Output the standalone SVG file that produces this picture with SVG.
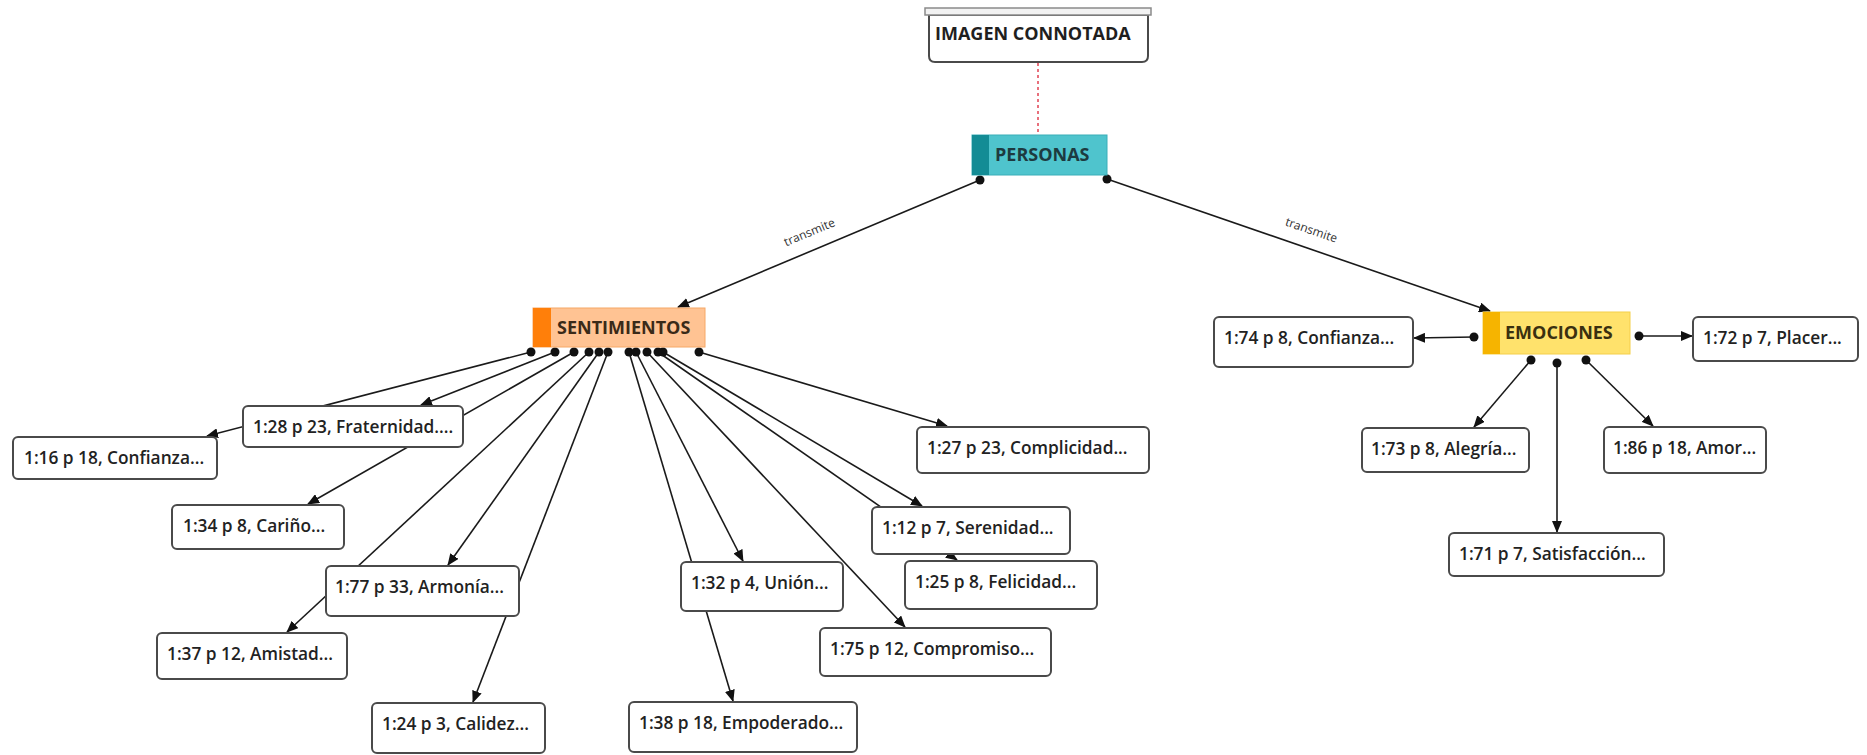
<svg xmlns="http://www.w3.org/2000/svg" width="1867" height="755" viewBox="0 0 1867 755">
<style>
.bg{fill:#ffffff}
.box{fill:#ffffff;stroke:#4a4a4a;stroke-width:2}
.t{font-family:"Open Sans","Liberation Sans",sans-serif;font-size:17.3px;font-weight:600;fill:#222}
.h{font-family:"Open Sans","Liberation Sans",sans-serif;font-size:18px;font-weight:700;fill:#1f1f1f}
.lbl{font-family:"Open Sans","Liberation Sans",sans-serif;font-size:12px;fill:#333}
.c{stroke:#1a1a1a;stroke-width:1.6;fill:none;marker-end:url(#arr)}
.dot{fill:#111}
</style>
<defs>
<marker id="arr" markerWidth="12" markerHeight="10" refX="11" refY="5" orient="auto" markerUnits="userSpaceOnUse">
<path d="M0,0 L12,5 L0,10 Z" fill="#111"/>
</marker>
</defs>
<rect class="bg" x="0" y="0" width="1867" height="755"/>

<g id="connectors">
<line x1="1038" y1="63" x2="1038" y2="134" stroke="#e8707c" stroke-width="2" stroke-dasharray="3,3"/>
<line class="c" x1="980" y1="180" x2="678" y2="307"/>
<line class="c" x1="1107" y1="179" x2="1490" y2="311"/>
<text class="lbl" transform="translate(811,236) rotate(-22.6)" text-anchor="middle">transmite</text>
<text class="lbl" transform="translate(1310,234) rotate(19)" text-anchor="middle">transmite</text>

<line class="c" x1="531" y1="352" x2="207" y2="436"/>
<line class="c" x1="555" y1="352" x2="421" y2="405"/>
<line class="c" x1="574" y1="352" x2="308" y2="504"/>
<line class="c" x1="589" y1="352" x2="287" y2="632"/>
<line class="c" x1="599" y1="352" x2="448" y2="565"/>
<line class="c" x1="608" y1="352" x2="473" y2="702"/>
<line class="c" x1="629" y1="352" x2="733" y2="701"/>
<line class="c" x1="636" y1="352" x2="743" y2="561"/>
<line class="c" x1="647" y1="352" x2="905" y2="627"/>
<line class="c" x1="658" y1="352" x2="957" y2="560"/>
<line class="c" x1="663" y1="352" x2="922" y2="506"/>
<line class="c" x1="699" y1="352" x2="947" y2="426"/>

<line class="c" x1="1474" y1="337" x2="1414" y2="338"/>
<line class="c" x1="1639" y1="336" x2="1692" y2="336"/>
<line class="c" x1="1531" y1="360" x2="1474" y2="427"/>
<line class="c" x1="1557" y1="363" x2="1557" y2="532"/>
<line class="c" x1="1586" y1="360" x2="1653" y2="426"/>

<circle class="dot" cx="980" cy="180" r="4.5"/>
<circle class="dot" cx="1107" cy="179" r="4.5"/>
<circle class="dot" cx="531" cy="352" r="4.5"/>
<circle class="dot" cx="555" cy="352" r="4.5"/>
<circle class="dot" cx="574" cy="352" r="4.5"/>
<circle class="dot" cx="589" cy="352" r="4.5"/>
<circle class="dot" cx="599" cy="352" r="4.5"/>
<circle class="dot" cx="608" cy="352" r="4.5"/>
<circle class="dot" cx="629" cy="352" r="4.5"/>
<circle class="dot" cx="636" cy="352" r="4.5"/>
<circle class="dot" cx="647" cy="352" r="4.5"/>
<circle class="dot" cx="658" cy="352" r="4.5"/>
<circle class="dot" cx="663" cy="352" r="4.5"/>
<circle class="dot" cx="699" cy="352" r="4.5"/>
<circle class="dot" cx="1474" cy="337" r="4.5"/>
<circle class="dot" cx="1639" cy="336" r="4.5"/>
<circle class="dot" cx="1531" cy="360" r="4.5"/>
<circle class="dot" cx="1557" cy="363" r="4.5"/>
<circle class="dot" cx="1586" cy="360" r="4.5"/>
</g>

<g id="imagen-connotada">
<path d="M929,15 H1148 V56 Q1148,62 1142,62 H935 Q929,62 929,56 Z" fill="#fff" stroke="#4a4a4a" stroke-width="2"/>
<rect x="925" y="8" width="226" height="7" fill="#f2f2f2" stroke="#8a8a8a" stroke-width="1.5"/>
<text class="h" x="935" y="40">IMAGEN CONNOTADA</text>
</g>

<g id="personas">
<rect x="972" y="135" width="135" height="40" fill="#4fc4cd" stroke="#3aaeb8" stroke-width="1"/>
<rect x="972" y="135" width="17" height="40" fill="#138c95"/>
<text class="h" x="995" y="161" style="fill:#1d3a40">PERSONAS</text>
</g>

<g id="sentimientos">
<rect x="533" y="308" width="172" height="39" fill="#ffc393" stroke="#f6a866" stroke-width="1"/>
<rect x="533" y="308" width="18" height="39" fill="#ff7f0a"/>
<text class="h" x="557" y="334" style="fill:#3a2a18">SENTIMIENTOS</text>
</g>

<g id="emociones">
<rect x="1483" y="312" width="147" height="42" fill="#ffe26c" stroke="#f4cf4a" stroke-width="1"/>
<rect x="1483" y="312" width="17" height="42" fill="#f6b400"/>
<text class="h" x="1505" y="339" style="fill:#3a3010">EMOCIONES</text>
</g>

<g id="n-1-28">
<rect class="box" x="243" y="406" width="220" height="41" rx="5"/>
<text class="t" x="253" y="433">1:28 p 23, Fraternidad....</text>
</g>
<g id="n-1-16">
<rect class="box" x="13" y="437" width="204" height="42" rx="5"/>
<text class="t" x="24" y="464">1:16 p 18, Confianza...</text>
</g>
<g id="n-1-34">
<rect class="box" x="172" y="505" width="172" height="44" rx="5"/>
<text class="t" x="183" y="532">1:34 p 8, Cariño...</text>
</g>
<g id="n-1-77">
<rect class="box" x="326" y="566" width="193" height="50" rx="5"/>
<text class="t" x="335" y="593">1:77 p 33, Armonía...</text>
</g>
<g id="n-1-37">
<rect class="box" x="157" y="633" width="190" height="46" rx="5"/>
<text class="t" x="167" y="660">1:37 p 12, Amistad...</text>
</g>
<g id="n-1-24">
<rect class="box" x="372" y="703" width="173" height="50" rx="5"/>
<text class="t" x="382" y="730">1:24 p 3, Calidez...</text>
</g>
<g id="n-1-32">
<rect class="box" x="681" y="562" width="162" height="49" rx="5"/>
<text class="t" x="691" y="589">1:32 p 4, Unión...</text>
</g>
<g id="n-1-38">
<rect class="box" x="629" y="702" width="228" height="50" rx="5"/>
<text class="t" x="639" y="729">1:38 p 18, Empoderado...</text>
</g>
<g id="n-1-75">
<rect class="box" x="820" y="628" width="231" height="48" rx="5"/>
<text class="t" x="830" y="655">1:75 p 12, Compromiso...</text>
</g>
<g id="n-1-12">
<rect class="box" x="872" y="507" width="198" height="47" rx="5"/>
<text class="t" x="882" y="534">1:12 p 7, Serenidad...</text>
</g>
<g id="n-1-25">
<rect class="box" x="905" y="561" width="192" height="48" rx="5"/>
<text class="t" x="915" y="588">1:25 p 8, Felicidad...</text>
</g>
<g id="n-1-27">
<rect class="box" x="917" y="427" width="232" height="46" rx="5"/>
<text class="t" x="927" y="454">1:27 p 23, Complicidad...</text>
</g>

<g id="n-1-74">
<rect class="box" x="1214" y="317" width="199" height="50" rx="5"/>
<text class="t" x="1224" y="344">1:74 p 8, Confianza...</text>
</g>
<g id="n-1-72">
<rect class="box" x="1693" y="317" width="165" height="44" rx="5"/>
<text class="t" x="1703" y="344">1:72 p 7, Placer...</text>
</g>
<g id="n-1-73">
<rect class="box" x="1362" y="428" width="167" height="44" rx="5"/>
<text class="t" x="1371" y="455">1:73 p 8, Alegría...</text>
</g>
<g id="n-1-86">
<rect class="box" x="1604" y="427" width="162" height="46" rx="5"/>
<text class="t" x="1613" y="454">1:86 p 18, Amor...</text>
</g>
<g id="n-1-71">
<rect class="box" x="1449" y="533" width="215" height="43" rx="5"/>
<text class="t" x="1459" y="560">1:71 p 7, Satisfacción...</text>
</g>
</svg>
